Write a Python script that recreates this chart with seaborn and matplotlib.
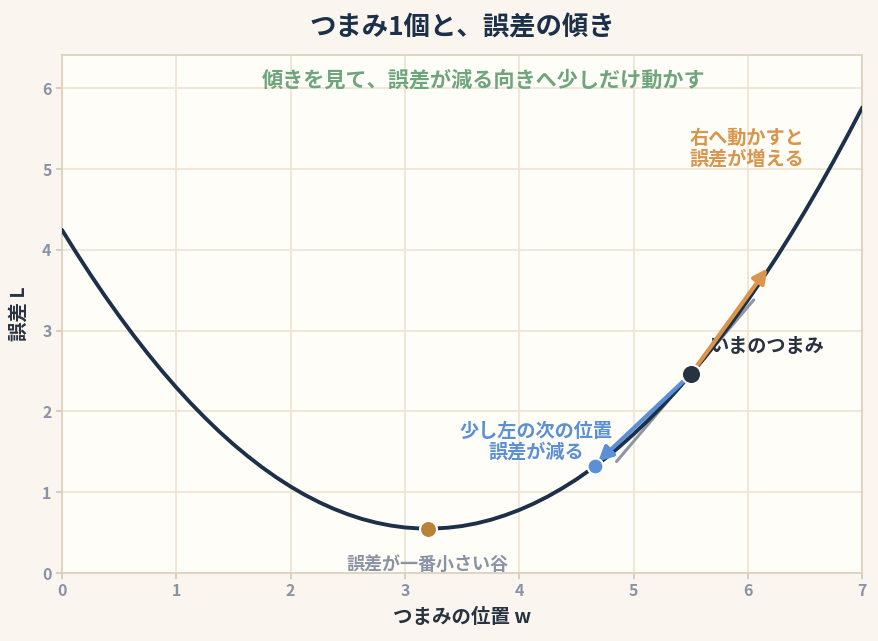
import matplotlib
matplotlib.use("Agg")
import matplotlib.pyplot as plt
import seaborn as sns
import pandas as pd

# 誤差曲線
knob_w = [0.0, 0.125, 0.25, 0.375, 0.5, 0.625, 0.75, 0.875, 1.0, 1.125, 1.25, 1.375,
          1.5, 1.625, 1.75, 1.875, 2.0, 2.125, 2.25, 2.375, 2.5, 2.625, 2.75, 2.875,
          3.0, 3.125, 3.25, 3.375, 3.5, 3.625, 3.75, 3.875, 4.0, 4.125, 4.25, 4.375,
          4.5, 4.625, 4.75, 4.875, 5.0, 5.125, 5.25, 5.375, 5.5, 5.625, 5.75, 5.875,
          6.0, 6.125, 6.25, 6.375, 6.5, 6.625, 6.75, 6.875, 7.0]
loss_L = [4.247, 3.964, 3.692, 3.431, 3.182, 2.944, 2.717, 2.501, 2.297, 2.104, 1.923, 1.752,
          1.593, 1.446, 1.309, 1.184, 1.070, 0.967, 0.876, 0.796, 0.727, 0.669, 0.623, 0.588,
          0.564, 0.552, 0.551, 0.561, 0.582, 0.615, 0.659, 0.715, 0.781, 0.859, 0.948, 1.049,
          1.160, 1.283, 1.417, 1.563, 1.720, 1.888, 2.067, 2.258, 2.460, 2.673, 2.897, 3.133,
          3.380, 3.639, 3.908, 4.189, 4.481, 4.785, 5.100, 5.426, 5.763]

# 注目する点
now_w, now_L = 5.5, 2.46
next_w, next_L = 4.66, 1.32
right_w, right_L = 6.17, 3.77
min_w, min_L = 3.2, 0.55
tangent_w = [4.85, 6.05]
tangent_L = [1.38, 3.38]

df = pd.DataFrame({"w": knob_w, "L": loss_L})

sns.set_theme(style="whitegrid")
plt.rcParams["font.family"] = ["Noto Sans CJK JP", "DejaVu Sans"]

navy = "#1c3149"
blue = "#5b8fd6"
orange = "#d9954b"
green = "#6fa57c"
gold = "#b8823a"
greytxt = "#8a93a5"

fig, ax = plt.subplots(figsize=(8.79, 6.41), dpi=100)
fig.patch.set_facecolor("#faf6ef")
ax.set_facecolor("#fffdf8")

# 接線
ax.plot(tangent_w, tangent_L, color="#8e96a3", lw=2.2, zorder=2)
sns.lineplot(data=df, x="w", y="L", color=navy, lw=2.8, ax=ax, zorder=3)

# 矢印
ax.annotate("", xy=(right_w, right_L), xytext=(now_w, now_L),
            arrowprops=dict(arrowstyle="-|>,head_length=0.7,head_width=0.35",
                            color=orange, lw=3, shrinkA=0, shrinkB=0), zorder=4)
ax.annotate("", xy=(next_w + 0.03, next_L + 0.06), xytext=(now_w, now_L),
            arrowprops=dict(arrowstyle="-|>,head_length=0.7,head_width=0.35",
                            color=blue, lw=3, shrinkA=0, shrinkB=0), zorder=4)

sns.scatterplot(x=[now_w], y=[now_L], s=190, color="#283240", edgecolor="white",
                linewidth=1.5, ax=ax, zorder=5)
sns.scatterplot(x=[next_w], y=[next_L], s=130, color=blue, edgecolor="white",
                linewidth=1.5, ax=ax, zorder=5)
sns.scatterplot(x=[min_w], y=[min_L], s=150, color=gold, edgecolor="white",
                linewidth=1.5, ax=ax, zorder=5)

# 注釈
ax.text(5.665, now_L + 0.35, "いまのつまみ", color="#283240", fontsize=13.8,
        fontweight="bold", ha="left", va="center")
ax.text(4.15, 1.63, "少し左の次の位置\n誤差が減る", color=blue, fontsize=13.8,
        fontweight="bold", ha="center", va="center", linespacing=1.12)
ax.text(5.99, 5.25, "右へ動かすと\n誤差が増える", color=orange, fontsize=13.8,
        fontweight="bold", ha="center", va="center", linespacing=1.12)
ax.text(min_w, 0.11, "誤差が一番小さい谷", color=greytxt, fontsize=13,
        fontweight="bold", ha="center", va="center")
ax.text(3.69, 6.1, "傾きを見て、誤差が減る向きへ少しだけ動かす", color=green, fontsize=15.2,
        fontweight="bold", ha="center", va="center")

ax.set_xlim(0, 7)
ax.set_ylim(0, 6.41)
ax.set_xticks(range(0, 8))
ax.set_yticks(range(0, 7))
ax.grid(True, color="#efe5d5", lw=1.3)
for s in ax.spines.values():
    s.set_color("#ddd2c0")
    s.set_linewidth(1.3)
ax.tick_params(axis="both", colors="#d2c8b8", labelcolor=greytxt, labelsize=11.5,
               length=4, width=1.2, bottom=True, left=True)
for lab in ax.get_xticklabels() + ax.get_yticklabels():
    lab.set_fontweight("bold")

ax.set_xlabel("つまみの位置 w", fontsize=14, fontweight="bold", color="#283240", labelpad=6)
ax.set_ylabel("誤差 L", fontsize=14, fontweight="bold", color="#283240", labelpad=10)
ax.set_title("つまみ1個と、誤差の傾き", fontsize=19, fontweight="bold", color=navy, pad=14)

fig.subplots_adjust(left=0.0705, right=0.981, top=0.914, bottom=0.106)
fig.savefig("out.png", dpi=100, facecolor=fig.get_facecolor())
